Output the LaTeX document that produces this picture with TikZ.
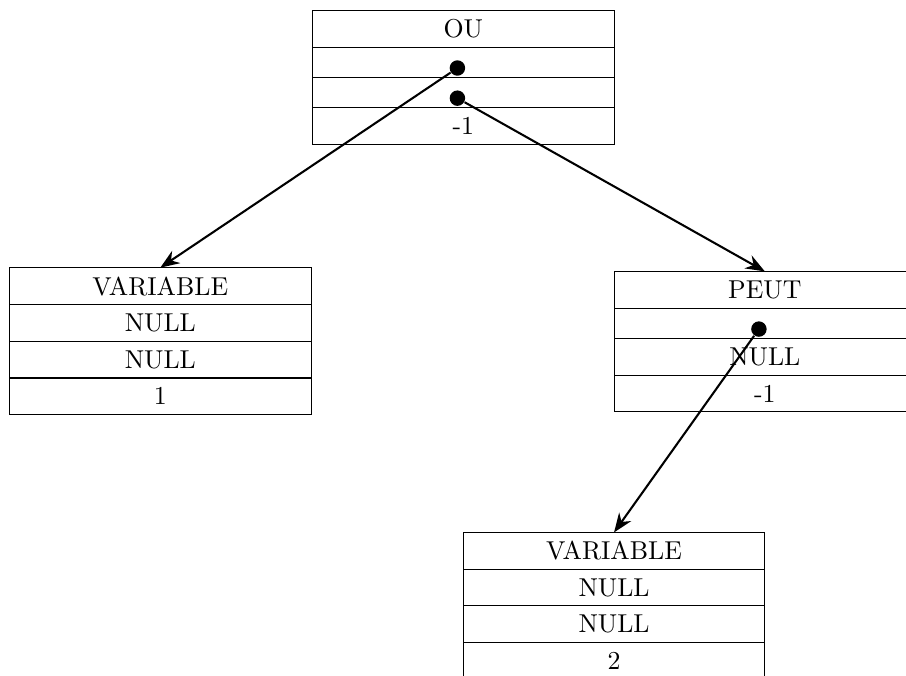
\documentclass[tikz,border=0pt]{standalone}
\usetikzlibrary{positioning,arrows.meta}
\begin{document}
\begin{tikzpicture}[
  cell/.style={rectangle, draw, minimum width=4.1cm, minimum height=0.5cm, inner sep=0pt, outer sep=0pt},
  blank/.style={cell, minimum height=0.41cm},
  dot/.style={circle, fill, inner sep=0pt, minimum size=0.21cm},
  ptr/.style={-{Stealth[length=2.6mm, width=2mm]}, thick},
  node distance=0pt,
]
\useasboundingbox (0,0) rectangle (12.32,9.18);
\clip (0,0) rectangle (12.32,9.18);

% OU (root)
\node[cell, anchor=north] (o1) at (6.30, 9.04) {OU};
\node[blank, below=of o1] (o2) {};
\node[blank, below=of o2] (o3) {};
\node[cell, below=of o3] (o4) {-1};
\node[dot, xshift=-0.08cm, yshift=-0.08cm] (dl) at (o2) {};
\node[dot, xshift=-0.08cm, yshift=-0.08cm] (dr) at (o3) {};

% VARIABLE (left)
\node[cell, anchor=north] (v1) at (2.18, 5.54) {VARIABLE};
\node[cell, below=of v1] (v2) {NULL};
\node[cell, below=of v2] (v3) {NULL};
\node[cell, below=of v3] (v4) {1};

% PEUT (right)
\node[cell, anchor=north] (p1) at (10.40, 5.49) {PEUT};
\node[blank, below=of p1] (p2) {};
\node[cell, below=of p2] (p3) {NULL};
\node[cell, below=of p3] (p4) {-1};
\node[dot, xshift=-0.08cm, yshift=-0.08cm] (dp) at (p2) {};

% VARIABLE (bottom)
\node[cell, anchor=north] (w1) at (8.35, 1.94) {VARIABLE};
\node[cell, below=of w1] (w2) {NULL};
\node[cell, below=of w2] (w3) {NULL};
\node[cell, below=of w3] (w4) {2};

% pointers
\draw[ptr] (dl) -- (v1.north);
\draw[ptr] (dr) -- (p1.north);
\draw[ptr] (dp) -- (w1.north);

\end{tikzpicture}
\end{document}
